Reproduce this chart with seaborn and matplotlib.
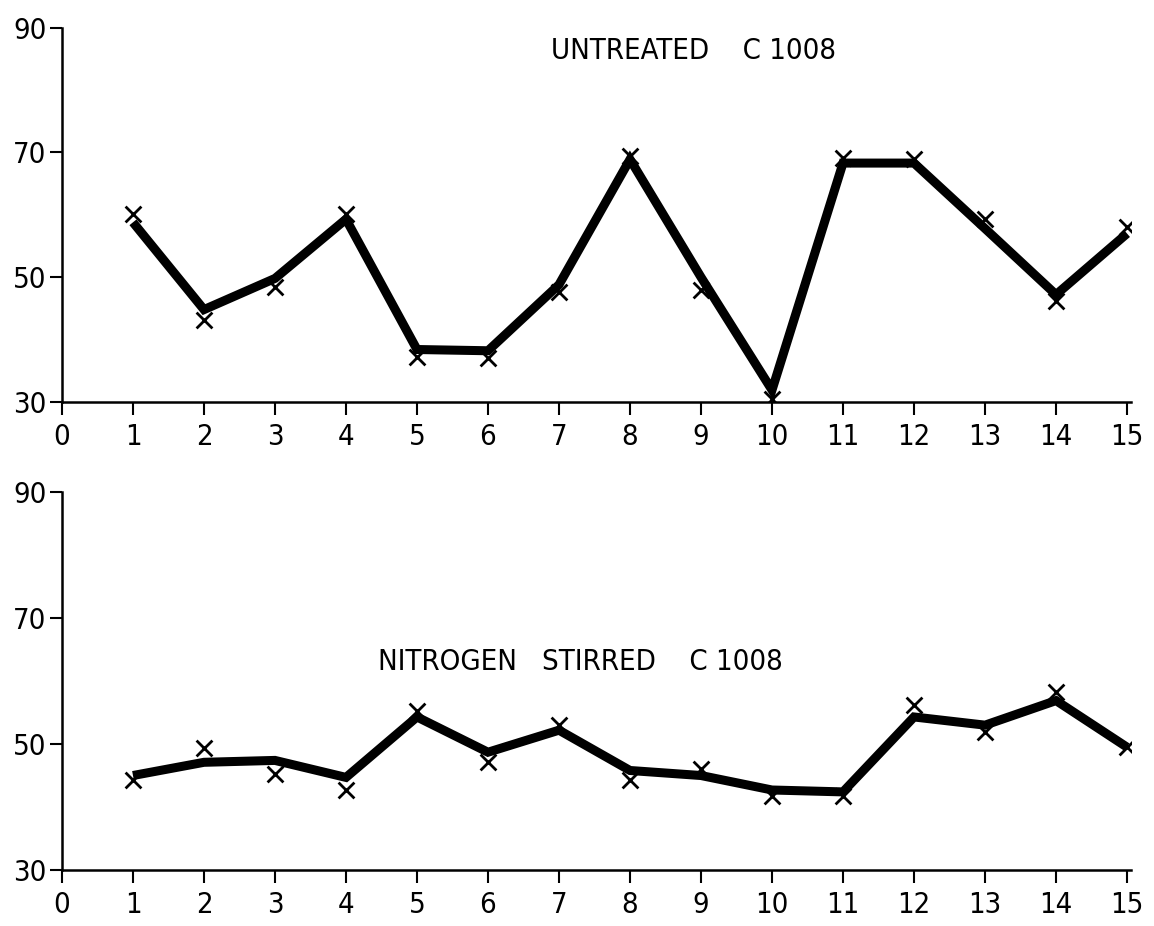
import numpy as np
import pandas as pd
import matplotlib
matplotlib.use("Agg")
import matplotlib.pyplot as plt
import seaborn as sns

# ---- data ----
samples = list(range(1, 16))

untreated_points = [60.2, 43.2, 48.5, 60.2, 37.2, 37.1, 47.7, 69.4, 48.0, 30.5, 69.1, 68.9, 59.3, 46.1, 58.1]
untreated_line = [58.8, 44.8, 49.8, 59.3, 38.4, 38.2, 48.8, 68.9, 50.0, 31.9, 68.3, 68.3, 57.8, 47.2, 57.0]

nitrogen_points = [44.3, 49.3, 45.2, 42.7, 55.3, 47.1, 53.0, 44.3, 46.0, 41.8, 41.8, 56.2, 51.9, 58.3, 49.5]
nitrogen_line = [45.0, 47.1, 47.4, 44.7, 54.3, 48.7, 52.2, 45.8, 45.0, 42.7, 42.4, 54.3, 53.0, 56.9, 49.5]

x_ticks = list(range(0, 16))
y_ticks = [30, 50, 70, 90]
titles = ["UNTREATED    C 1008", "NITROGEN   STIRRED    C 1008"]

sns.set_style("ticks")
plt.rcParams["font.family"] = ["DejaVu Sans"]
plt.rcParams["font.stretch"] = "condensed"

fig = plt.figure(figsize=(11.54, 9.26), dpi=100)
ax_top = fig.add_axes([0.0537, 0.566, 0.926, 0.404])
ax_bot = fig.add_axes([0.0537, 0.0605, 0.926, 0.408])

panels = [
    (ax_top, untreated_points, untreated_line, titles[0], (8.9, 86.3)),
    (ax_bot, nitrogen_points, nitrogen_line, titles[1], (7.3, 63.0)),
]

for ax, pts, line, title, tpos in panels:
    df = pd.DataFrame({"sample": samples, "points": pts, "line": line})
    sns.lineplot(data=df, x="sample", y="line", ax=ax, color="black",
                 linewidth=6.5, solid_joinstyle="miter", solid_capstyle="butt")
    sns.scatterplot(data=df, x="sample", y="points", ax=ax, marker="x",
                    color="black", s=130, linewidth=2.0, zorder=3)
    ax.set_xlim(0, 15.05)
    ax.set_ylim(30, 90)
    ax.set_xticks(x_ticks)
    ax.set_yticks(y_ticks)
    ax.set_xticklabels([str(t) for t in x_ticks])
    ax.set_yticklabels([str(t) for t in y_ticks])
    ax.set_xlabel("")
    ax.set_ylabel("")
    ax.tick_params(axis="both", direction="out", length=9, width=1.5,
                   labelsize=21, color="black", labelcolor="black")
    ax.tick_params(axis="x", pad=6)
    ax.tick_params(axis="y", pad=2)
    sns.despine(ax=ax)
    for s in ("left", "bottom"):
        ax.spines[s].set_linewidth(1.8)
        ax.spines[s].set_color("black")
    ax.text(tpos[0], tpos[1], title, ha="center", va="center",
            fontsize=21, color="black")

fig.savefig("out.png", dpi=100, facecolor="white")
